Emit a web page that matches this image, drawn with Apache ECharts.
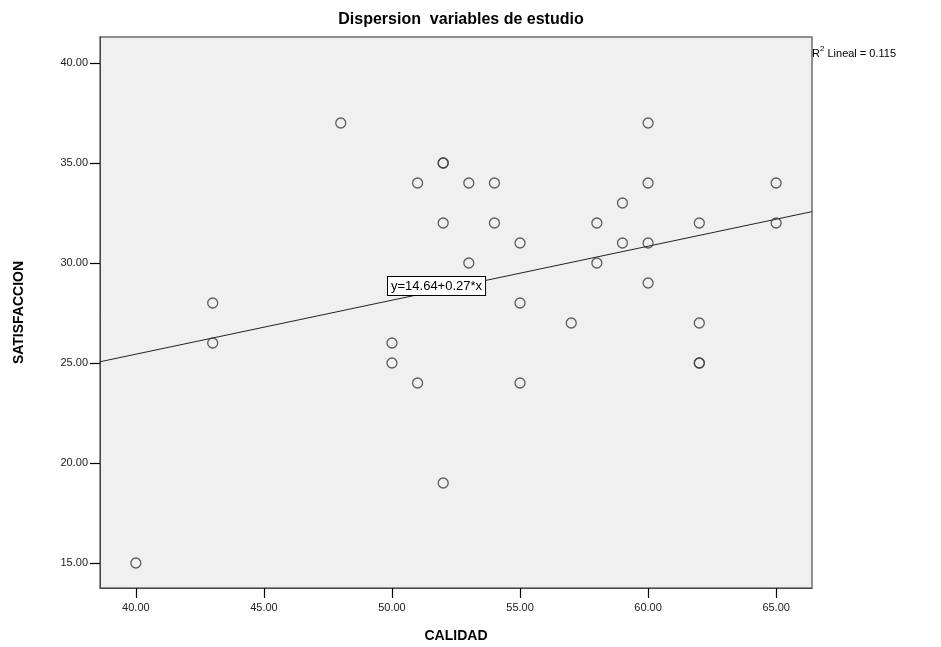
<!DOCTYPE html>
<html>
<head>
<meta charset="utf-8">
<script src="https://cdn.jsdelivr.net/npm/echarts@6/dist/echarts.min.js"></script>
<style>
  html, body { margin: 0; padding: 0; background: #ffffff; }
  #chart { width: 941px; height: 647px; }
</style>
</head>
<body>
<div id="chart"></div>
<script>
// CALIDAD (x) and SATISFACCION (y) for each respondent
const calidad = [40, 43, 43, 48, 50, 50, 51, 51, 52, 52, 52, 52, 53, 53, 54, 54, 55, 55, 55, 57, 58, 58, 59, 59, 60, 60, 60, 60, 62, 62, 62, 62, 65, 65];
const satisfaccion = [15, 28, 26, 37, 26, 25, 34, 24, 35, 35, 32, 19, 34, 30, 34, 32, 31, 28, 24, 27, 32, 30, 33, 31, 37, 34, 31, 29, 32, 27, 25, 25, 34, 32];

// Fitted linear model
const intercept = 14.64;
const slope = 0.27;
const r2 = 0.115;

// Axis ranges and tick values
const xRange = [38.6, 66.4];
const yRange = [13.75, 41.3];
const xTicks = [40, 45, 50, 55, 60, 65];
const yTicks = [15, 20, 25, 30, 35, 40];

const points = calidad.map((x, i) => [x, satisfaccion[i]]);
const fitLine = xRange.map(x => [x, intercept + slope * x]);

const font = 'Arial, "Liberation Sans", sans-serif';

const chart = echarts.init(document.getElementById('chart'));
chart.setOption({
  animation: false,
  backgroundColor: '#ffffff',
  title: {
    text: 'Dispersion  variables de estudio',
    left: 456, top: 7, textAlign: 'center',
    textStyle: { fontFamily: font, fontSize: 16, fontWeight: 'bold', color: '#000' }
  },
  grid: {
    left: 100, right: 129, top: 37, bottom: 59,
    containLabel: false, outerBoundsMode: 'none',
    show: true, backgroundColor: '#f0f0f0', borderColor: '#6e6e6e', borderWidth: 1.5
  },
  xAxis: {
    type: 'value', min: xRange[0], max: xRange[1],
    name: 'CALIDAD', nameLocation: 'middle', nameGap: 41,
    nameTextStyle: { fontFamily: font, fontSize: 14, fontWeight: 'bold', color: '#000' },
    splitLine: { show: false },
    axisLine: { show: true, lineStyle: { color: '#4a4a4a', width: 1 } },
    axisTick: { show: true, inside: false, length: 10, customValues: xTicks, lineStyle: { color: '#000', width: 1.2 } },
    axisLabel: {
      customValues: xTicks, margin: 14,
      formatter: v => v.toFixed(2),
      fontFamily: font, fontSize: 11, color: '#222'
    }
  },
  yAxis: {
    type: 'value', min: yRange[0], max: yRange[1],
    name: 'SATISFACCION', nameLocation: 'middle', nameGap: 74, nameRotate: 90,
    nameTextStyle: { fontFamily: font, fontSize: 14, fontWeight: 'bold', color: '#000' },
    splitLine: { show: false },
    axisLine: { show: true, lineStyle: { color: '#4a4a4a', width: 1 } },
    axisTick: { show: true, inside: false, length: 10, customValues: yTicks, lineStyle: { color: '#000', width: 1.2 } },
    axisLabel: {
      customValues: yTicks, margin: 12,
      formatter: v => v.toFixed(2),
      fontFamily: font, fontSize: 11, color: '#222'
    }
  },
  series: [
    {
      type: 'line',
      data: fitLine,
      symbol: 'none',
      lineStyle: { color: '#222', width: 1 },
      z: 2
    },
    {
      type: 'scatter',
      data: points,
      symbol: 'circle',
      symbolSize: 10,
      itemStyle: { color: 'rgba(0,0,0,0)', borderColor: '#3a3a3a', borderWidth: 1.3 },
      z: 3
    }
  ],
  graphic: [
    {
      type: 'text',
      left: 812, top: 45,
      style: {
        text: '{r|R}{s|2}{r| Lineal = ' + r2.toFixed(3) + '}',
        rich: {
          r: { fontFamily: font, fontSize: 11, fill: '#000', verticalAlign: 'bottom' },
          s: { fontFamily: font, fontSize: 8, fill: '#000', verticalAlign: 'top', padding: [0, 0, 6, 0] }
        }
      }
    },
    {
      type: 'text',
      left: 387, top: 276,
      z: 10,
      style: {
        text: 'y=' + intercept.toFixed(2) + '+' + slope.toFixed(2) + '*x',
        fontFamily: font, fontSize: 13, fill: '#000',
        backgroundColor: '#ffffff', borderColor: '#000', borderWidth: 1,
        padding: [3, 3, 2, 3]
      }
    }
  ]
});
</script>
</body>
</html>
